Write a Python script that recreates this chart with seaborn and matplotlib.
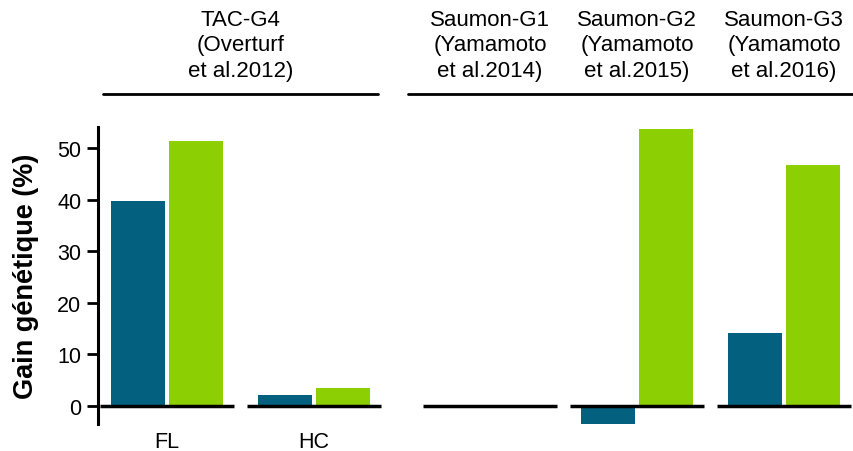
import matplotlib
matplotlib.use("Agg")
import matplotlib.pyplot as plt
import matplotlib.transforms as mtransforms
import numpy as np
import pandas as pd
import seaborn as sns

# data
left_cats = ["FL", "HC"]
left_a = [39.7, 2.1]
left_b = [51.4, 3.5]

right_cats = ["Saumon-G1", "Saumon-G2", "Saumon-G3"]
right_a = [0.0, -3.5, 14.1]
right_b = [0.0, 53.7, 46.7]

left_header = "TAC-G4\n(Overturf\net al.2012)"
right_headers = ["Saumon-G1\n(Yamamoto\net al.2014)",
                 "Saumon-G2\n(Yamamoto\net al.2015)",
                 "Saumon-G3\n(Yamamoto\net al.2016)"]

series = ["a", "b"]
colors = ["#03607f", "#8ccf02"]
yticks = [0, 10, 20, 30, 40, 50]

sns.set_theme(style="white")
plt.rcParams["font.family"] = ["Liberation Sans", "DejaVu Sans"]
plt.rcParams["text.color"] = "black"
plt.rcParams["xtick.color"] = "black"
plt.rcParams["ytick.color"] = "black"
plt.rcParams["axes.labelcolor"] = "black"

W, H = 854, 452
fig = plt.figure(figsize=(W / 100, H / 100), dpi=100)


def px_axes(x0, x1, y0, y1):
    return fig.add_axes([x0 / W, 1 - y1 / H, (x1 - x0) / W, (y1 - y0) / H])


ax_l = px_axes(98, 383, 128, 425)
ax_r = px_axes(421, 853, 128, 425)

df_l = pd.DataFrame({"cat": left_cats * 2, "val": left_a + left_b,
                     "s": [series[0]] * 2 + [series[1]] * 2})
df_r = pd.DataFrame({"cat": right_cats * 2, "val": right_a + right_b,
                     "s": [series[0]] * 3 + [series[1]] * 3})

for ax, df, cats in [(ax_l, df_l, left_cats), (ax_r, df_r, right_cats)]:
    sns.barplot(data=df, x="cat", y="val", hue="s", order=cats, hue_order=series,
                palette=colors, width=0.8, gap=0.08, saturation=1,
                legend=False, ax=ax, linewidth=0)
    ax.set_ylim(-3.5, 54.1)
    ax.set_xlim(-0.47, len(cats) - 0.53)
    pos = np.arange(len(cats))
    ax.hlines([0] * len(cats), pos - 0.455, pos + 0.455, color="black",
              linewidth=2.5, zorder=5)
    ax.set_xlabel("")
    ax.set_ylabel("")
    for s in ["top", "right", "bottom"]:
        ax.spines[s].set_visible(False)

# left axis styling
ax_l.spines["left"].set_linewidth(2.2)
ax_l.spines["left"].set_color("black")
ax_l.set_yticks(yticks)
ax_l.tick_params(axis="y", direction="out", length=8, width=2, color="black",
                 labelsize=15.5, pad=4, left=True)
ax_l.tick_params(axis="x", length=0, labelsize=15.5, pad=5)
ax_l.set_ylabel("Gain génétique (%)", fontsize=19.5, fontweight="bold", labelpad=13)

ax_r.spines["left"].set_visible(False)
ax_r.set_yticks([])
ax_r.set_xticks([])

# headers with lines
tr_l = mtransforms.blended_transform_factory(ax_l.transData, fig.transFigure)
tr_r = mtransforms.blended_transform_factory(ax_r.transData, fig.transFigure)
y_text = 1 - 46 / H
y_line = 1 - 95 / H
fig.text(0.5, y_text, left_header, transform=tr_l, ha="center", va="center",
         fontsize=16, linespacing=1.3)
for i, h in enumerate(right_headers):
    fig.text(i, y_text, h, transform=tr_r, ha="center", va="center",
             fontsize=16, linespacing=1.3)
fig.add_artist(plt.Line2D([103 / W, 378 / W], [y_line, y_line], color="black",
                          linewidth=2))
fig.add_artist(plt.Line2D([408 / W, 854 / W], [y_line, y_line], color="black",
                          linewidth=2))

fig.savefig("out.png", dpi=100)
